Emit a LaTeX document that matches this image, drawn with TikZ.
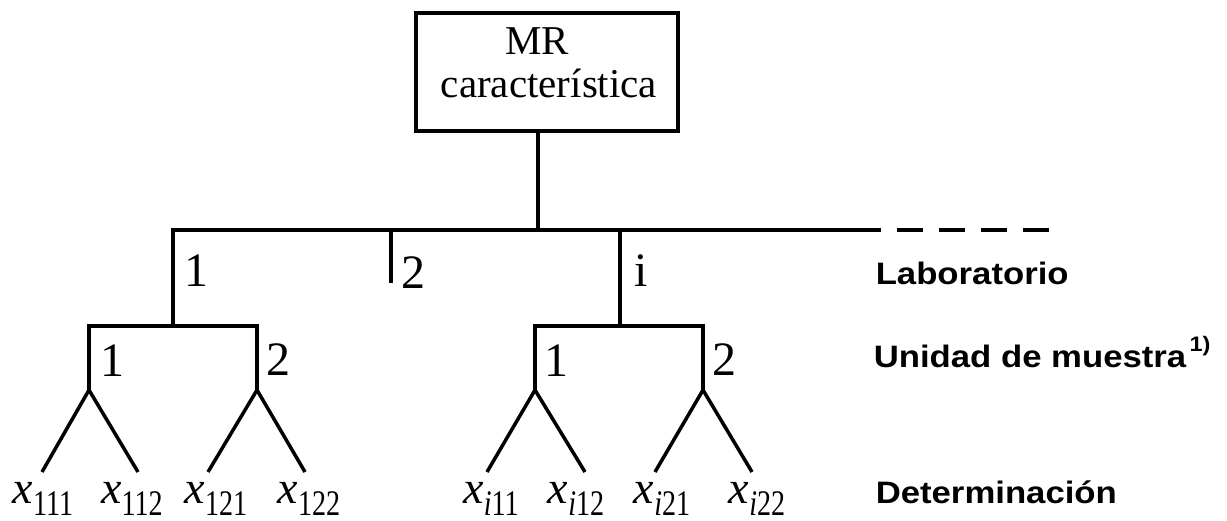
\documentclass[tikz,border=0pt]{standalone}
\usepackage{fontspec}
\setmainfont{Liberation Serif}
\newfontfamily\levelsans{Liberation Sans}

% one observation x with its three-index subscript
\newcommand\obs[1]{{\fontsize{46}{46}\selectfont\itshape x}\raisebox{-12pt}{\fontsize{36}{36}\selectfont\scalebox{0.78}[1]{#1}}}
\newcommand\lvlname[1]{\scalebox{1.12}[1]{#1}}

\begin{document}
\begin{tikzpicture}[x=1pt,y=-1pt,line width=3.5pt,
  branch/.style={line width=3.5pt},
  numlbl/.style={inner sep=0pt,anchor=base west,font=\fontsize{48}{48}\selectfont},
  boxtext/.style={inner sep=0pt,anchor=base,font=\fontsize{41}{41}\selectfont},
  leaf/.style={inner sep=0pt,anchor=base},
  levelname/.style={inner sep=0pt,anchor=base west,font=\levelsans\bfseries\fontsize{31}{31}\selectfont}]
\useasboundingbox (0,0) rectangle (1227,521);

% top box
\node[draw,line width=4pt,minimum width=262pt,minimum height=118pt,inner sep=0pt] (mr) at (546.5,72) {};
\node[boxtext] (mrA) at (537,55) {MR};
\node[boxtext] (mrB) at (549,98) {característica};

% junction points
\coordinate (root) at (538,230);
\coordinate (l1top) at (173,230);
\coordinate (l1bot) at (173,326);
\coordinate (l2top) at (391,230);
\coordinate (l2bot) at (391,283);
\coordinate (litop) at (620,230);
\coordinate (libot) at (620,326);
\coordinate (hend) at (881,230);
\coordinate (hdash) at (1050,230);

\coordinate (u11) at (89,326);  \coordinate (u12) at (257,326);
\coordinate (a11) at (89,390);  \coordinate (a12) at (257,390);
\coordinate (ui1) at (535,326); \coordinate (ui2) at (703,326);
\coordinate (ai1) at (535,390); \coordinate (ai2) at (703,390);

\coordinate (e111) at (42,472);  \coordinate (e112) at (138,472);
\coordinate (e121) at (208,472); \coordinate (e122) at (305,472);
\coordinate (ei11) at (487,472); \coordinate (ei12) at (585,472);
\coordinate (ei21) at (655,472); \coordinate (ei22) at (752,472);

% laboratory level
\draw[branch] (root |- mr.south) -- (root);
\draw[branch] (l1bot) -- (l1top) -- (hend);
\draw[branch,dash pattern=on 26pt off 16pt,dash phase=26pt] (hend) -- (hdash);
\draw[branch] (l2top) -- (l2bot);
\draw[branch] (litop) -- (libot);

% sample-unit level
\draw[branch] (a11) -- (u11) -- (u12) -- (a12);
\draw[branch] (ai1) -- (ui1) -- (ui2) -- (ai2);

% determinations
\draw[branch] (e111) -- (a11) -- (e112);
\draw[branch] (e121) -- (a12) -- (e122);
\draw[branch] (ei11) -- (ai1) -- (ei12);
\draw[branch] (ei21) -- (ai2) -- (ei22);

% branch numbers
\node[numlbl] (n1) at (183,287) {1};
\node[numlbl] (n2) at (400,289) {2};
\node[numlbl] (ni) at (633,287) {i};
\node[numlbl] (n11) at (99,377) {1};
\node[numlbl] (n12) at (265,376) {2};
\node[numlbl] (ni1) at (543,377) {1};
\node[numlbl] (ni2) at (711,376) {2};

% observations
\node[leaf] (x111) at (43,503) {\obs{111}};
\node[leaf] (x112) at (132,503) {\obs{112}};
\node[leaf] (x121) at (216,503) {\obs{121}};
\node[leaf] (x122) at (309,503) {\obs{122}};
\node[leaf] (xi11) at (491,503) {\obs{{\itshape i}11}};
\node[leaf] (xi12) at (576,503) {\obs{{\itshape i}12}};
\node[leaf] (xi21) at (662,503) {\obs{{\itshape i}21}};
\node[leaf] (xi22) at (757,503) {\obs{{\itshape i}22}};

% level names
\node[levelname] (lab) at (874,285) {\lvlname{Laboratorio}};
\node[levelname] (unit) at (872,368) {\lvlname{Unidad de muestra\hspace{3pt}\raisebox{17pt}{\fontsize{21}{21}\selectfont 1)}}};
\node[levelname] (det) at (874,503) {\lvlname{Determinación}};
\end{tikzpicture}
\end{document}
